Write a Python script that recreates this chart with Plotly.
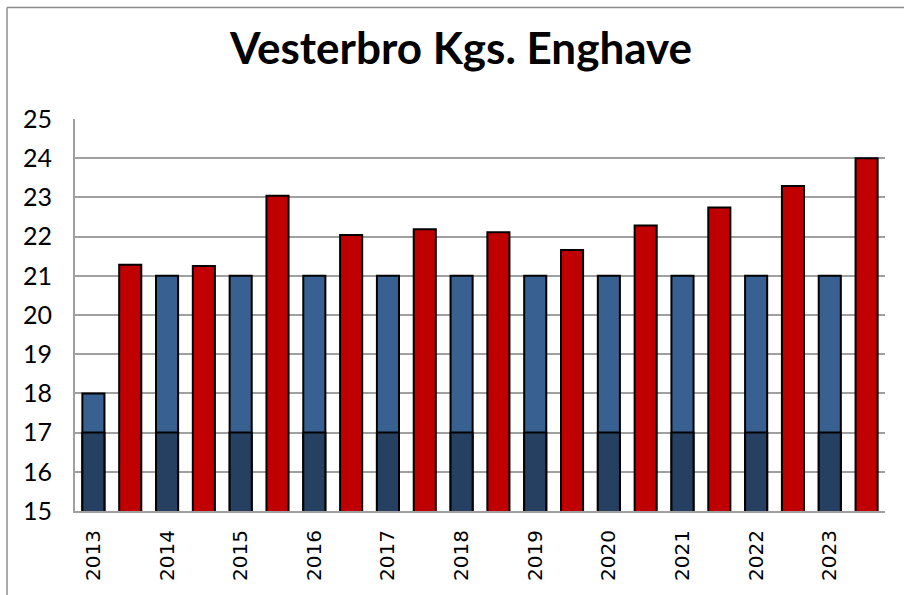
import plotly.graph_objects as go

years = ["2013", "2014", "2015", "2016", "2017", "2018", "2019", "2020", "2021", "2022", "2023"]
blue_values = [18, 21, 21, 21, 21, 21, 21, 21, 21, 21, 21]
dark_values = [17, 17, 17, 17, 17, 17, 17, 17, 17, 17, 17]
red_values = [21.28, 21.25, 23.04, 22.04, 22.19, 22.11, 21.66, 22.28, 22.74, 23.29, 24.0]
y_ticks = [15, 16, 17, 18, 19, 20, 21, 22, 23, 24, 25]

blue_x = [2 * i for i in range(len(years))]
red_x = [2 * i + 1 for i in range(len(years))]

W, H = 904, 595
L, R, T, B = 75, 19, 119, 84
pw = W - L - R
ph = H - T - B

fig = go.Figure()
fig.add_trace(go.Bar(x=blue_x, y=blue_values, width=0.6, marker=dict(color="#386192", line=dict(color="black", width=2)), showlegend=False))
fig.add_trace(go.Bar(x=blue_x, y=dark_values, width=0.6, marker=dict(color="#254061", line=dict(color="black", width=2)), showlegend=False))
fig.add_trace(go.Bar(x=red_x, y=red_values, width=0.6, marker=dict(color="#C00000", line=dict(color="black", width=2)), showlegend=False))

def px_to_paper_x(px):
    return (px - L) / pw

def py_to_paper_y(py):
    return (H - B - py) / ph

fig.add_shape(type="line", xref="paper", yref="paper",
              x0=px_to_paper_x(7), x1=px_to_paper_x(7), y0=py_to_paper_y(7.5), y1=py_to_paper_y(600),
              line=dict(color="#8C8C8C", width=1.5))
fig.add_shape(type="line", xref="paper", yref="paper",
              x0=px_to_paper_x(7), x1=px_to_paper_x(910), y0=py_to_paper_y(7.5), y1=py_to_paper_y(7.5),
              line=dict(color="#8C8C8C", width=1.5))

fig.update_layout(
    width=W, height=H,
    margin=dict(l=L, r=R, t=T, b=B, pad=0),
    paper_bgcolor="white", plot_bgcolor="white",
    barmode="overlay",
    title=dict(text="<b>Vesterbro Kgs. Enghave</b>", x=461 / W, xref="container", xanchor="center",
               y=1 - 49 / H, yref="container", yanchor="middle",
               font=dict(family="Lato", size=44, color="black")),
    xaxis=dict(range=[-0.5, 21.5], tickmode="array", tickvals=blue_x, ticktext=years,
               tickangle=-90, tickfont=dict(family="DejaVu Sans", size=20, color="black"),
               showgrid=False, showline=True, linecolor="#A0A0A0", linewidth=2,
               ticks="outside", ticklen=9, tickcolor="rgba(0,0,0,0)", zeroline=False),
    yaxis=dict(range=[15, 25], tickmode="array", tickvals=y_ticks,
               tickfont=dict(family="Lato", size=25, color="black"),
               showgrid=True, gridcolor="#A0A0A0", gridwidth=2,
               showline=True, linecolor="#A0A0A0", linewidth=2,
               ticks="outside", ticklen=16, tickcolor="rgba(0,0,0,0)", zeroline=False),
)

fig.write_html("out.html", config={"displayModeBar": False},
               post_script="document.body.style.margin='0';document.body.style.overflow='hidden';")
